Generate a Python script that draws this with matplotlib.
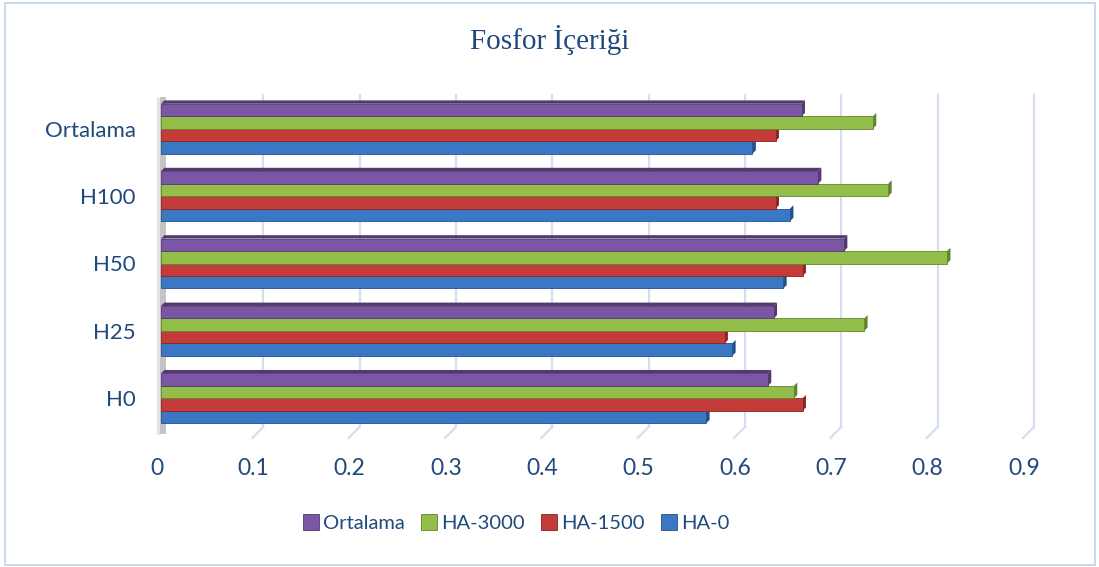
import numpy as np
import matplotlib
matplotlib.use("Agg")
import matplotlib.pyplot as plt
from matplotlib.patches import Polygon, Rectangle
from matplotlib.lines import Line2D
import matplotlib.transforms as mtransforms

# Data
categories = ["H0", "H25", "H50", "H100", "Ortalama"]
series_names = ["HA-0", "HA-1500", "HA-3000", "Ortalama"]
ha_0 = [0.566, 0.593, 0.646, 0.653, 0.614]
ha_1500 = [0.666, 0.585, 0.666, 0.638, 0.638]
ha_3000 = [0.657, 0.730, 0.816, 0.755, 0.739]
ortalama = [0.630, 0.636, 0.709, 0.682, 0.665]
x_ticks = [0, 0.1, 0.2, 0.3, 0.4, 0.5, 0.6, 0.7, 0.8, 0.9]
x_tick_labels = ["0", "0.1", "0.2", "0.3", "0.4", "0.5", "0.6", "0.7", "0.8", "0.9"]

values = [ha_0, ha_1500, ha_3000, ortalama]
face_colors = ["#3A78C3", "#C43C39", "#94BE4A", "#7A56A4"]
cap_colors = ["#24508A", "#8A2523", "#62842E", "#53396F"]
text_color = "#1F497D"

plt.rcParams["font.family"] = ["Lato", "DejaVu Sans"]

fig = plt.figure(figsize=(10.99, 5.67), dpi=100)
ax = fig.add_axes([161 / 1099, 1 - 432 / 567, (1028 - 161) / 1099, (432 - 95) / 567])

# outer border
fig.patches.append(Rectangle((5 / 1099, 2 / 567), 1090 / 1099, 562 / 567,
                             transform=fig.transFigure, fill=False,
                             edgecolor="#C9DAF0", linewidth=1.5))

y = np.arange(len(categories))
h = 0.185
offsets = [-1.5 * h, -0.5 * h, 0.5 * h, 1.5 * h]

# depth of the fake 3D caps, in data units
dx = 0.0035
dy = 0.05

for vals, off, fc, cc, name in zip(values, offsets, face_colors, cap_colors, series_names):
    ax.barh(y + off, vals, height=h, color=fc, edgecolor=cc, linewidth=0.6,
            label=name, zorder=3)
    for yi, v in zip(y, vals):
        y0 = yi + off - h / 2
        y1 = yi + off + h / 2
        cap = Polygon([(v, y0), (v, y1), (v + dx, y1 + dy), (v + dx, y0 + dy)],
                      closed=True, facecolor=cc, edgecolor="none", zorder=2.9)
        ax.add_patch(cap)
        # darker top strip on the uppermost bar of each group
        if off == offsets[-1]:
            top = Polygon([(0, y1), (v, y1), (v + dx, y1 + dy), (dx, y1 + dy)],
                          closed=True, facecolor=cc, edgecolor="none", zorder=2.9)
            ax.add_patch(top)

ax.set_xlim(0, 0.9)
ax.set_ylim(-0.5, 4.5)
ax.set_yticks(y)
ax.set_yticklabels(categories, fontsize=16, color=text_color)
ax.set_xticks(x_ticks)
ax.set_xticklabels(x_tick_labels, fontsize=16.5, color=text_color)
ax.tick_params(axis="both", length=0)
ax.tick_params(axis="x", pad=19)
ax.tick_params(axis="y", pad=18)
for s in ax.spines.values():
    s.set_visible(False)

# shift x tick labels slightly left like the perspective view
shift = mtransforms.ScaledTranslation(-4 / 100, 0, fig.dpi_scale_trans)
for lab in ax.get_xticklabels():
    lab.set_transform(lab.get_transform() + shift)

# gridlines on the back wall, bending down onto the floor
grid_off = mtransforms.ScaledTranslation(6 / 100, 0, fig.dpi_scale_trans)
blend = mtransforms.blended_transform_factory(ax.transData, ax.transAxes)
for t in x_ticks[1:]:
    ax.add_line(Line2D([t, t], [0.015, 1.0], transform=blend + grid_off,
                       color="#D3DFF0", linewidth=1.6, zorder=1, clip_on=False))
    x_disp, y_disp = (blend + grid_off).transform((t, 0.015))
    fig.lines.append(Line2D([x_disp, x_disp - 11], [y_disp, y_disp - 11],
                            transform=None, color="#D3DFF0", linewidth=1.6))

# left wall (light edge + gray face)
wall_edge = Rectangle((-0.0045, -0.01), 0.003, 1.0, transform=blend,
                      facecolor="#E4E4E4", edgecolor="none",
                      zorder=1.5, clip_on=False)
wall = Rectangle((-0.0015, -0.005), 0.0065, 1.0, transform=blend,
                 facecolor="#C4C4C4", edgecolor="none",
                 zorder=1.5, clip_on=False)
ax.add_patch(wall_edge)
ax.add_patch(wall)

fig.text(0.5, 1 - 40 / 567, "Fosfor İçeriği", ha="center", va="center",
         fontsize=21, color=text_color, family=["Liberation Serif", "DejaVu Serif"])

handles, labels = ax.get_legend_handles_labels()
leg = fig.legend(handles[::-1], labels[::-1], loc="center", ncol=4,
                 bbox_to_anchor=(516 / 1099, 1 - 523 / 567), frameon=False,
                 fontsize=14.5, handlelength=0.8, handleheight=0.8,
                 handletextpad=0.2, columnspacing=0.8)
for txt in leg.get_texts():
    txt.set_color(text_color)

fig.savefig("out.png", dpi=100)
